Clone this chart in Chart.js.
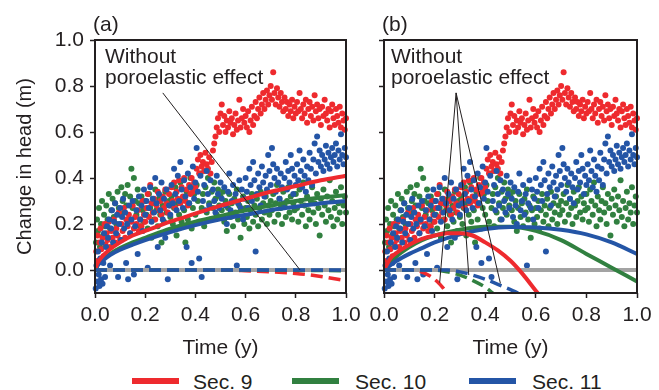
<!DOCTYPE html>
<html lang="en">
<head>
  <meta charset="UTF-8">
  <title>Change in head</title>
  <script src="https://cdn.jsdelivr.net/npm/chart.js"></script>
  <style>
    body { margin: 0; background: #fff; font-family: "Liberation Sans", Arial, sans-serif; color: #231f20; }
    #wrap { position: relative; width: 659px; height: 390px; overflow: hidden; }
    canvas { position: absolute; top: 0; }
    .txt { position: absolute; font-size: 21px; line-height: 21px; white-space: nowrap; }
    .key { position: absolute; top: 378px; width: 47px; height: 6px; }
  </style>
</head>
<body>
<div id="wrap">
  <canvas id="chartA" width="360" height="365" style="left:0"></canvas>
  <canvas id="chartB" width="329" height="365" style="left:330px"></canvas>
  <div class="txt" style="left:93px;top:13px">(a)</div>
  <div class="txt" style="left:382px;top:13px">(b)</div>
  <div class="txt" style="left:105px;top:45px">Without<br>poroelastic effect</div>
  <div class="txt" style="left:391px;top:45px">Without<br>poroelastic effect</div>
  <div class="key" style="left:132px;background:#ee2a2e"></div>
  <div class="txt" style="left:193px;top:371px">Sec. 9</div>
  <div class="key" style="left:292px;background:#318040"></div>
  <div class="txt" style="left:355px;top:371px">Sec. 10</div>
  <div class="key" style="left:469px;background:#2455a6"></div>
  <div class="txt" style="left:532px;top:371px">Sec. 11</div>
</div>
<script>
  // observed change in head, [time (y), head (m)] - same data in both panels
  const sec9Obs = [
    [0.005,0.08],[0.01,0.15],[0.012,0.04],[0.018,0.12],[0.022,0.18],[0.025,0.09],[0.03,0.14],[0.034,0.06],[0.038,0.2],[0.042,0.11],
    [0.046,0.16],[0.05,0.13],[0.055,0.21],[0.06,0.1],[0.065,0.17],[0.07,0.14],[0.075,0.22],[0.08,0.12],[0.085,0.18],[0.09,0.15],
    [0.095,0.25],[0.1,0.13],[0.105,0.2],[0.11,0.17],[0.115,0.27],[0.12,0.14],[0.125,0.22],[0.13,0.19],[0.135,0.24],[0.14,0.16],
    [0.145,0.21],[0.15,0.28],[0.155,0.18],[0.16,0.23],[0.165,0.2],[0.17,0.26],[0.175,0.17],[0.18,0.22],[0.185,0.19],[0.19,0.3],
    [0.195,0.24],[0.2,0.21],[0.205,0.27],[0.21,0.33],[0.215,0.23],[0.22,0.37],[0.225,0.29],[0.23,0.25],[0.235,0.31],[0.24,0.22],
    [0.245,0.28],[0.25,0.34],[0.255,0.26],[0.26,0.3],[0.265,0.24],[0.27,0.32],[0.275,0.27],[0.28,0.35],[0.285,0.29],[0.29,0.25],
    [0.295,0.33],[0.3,0.28],[0.305,0.36],[0.31,0.3],[0.315,0.38],[0.32,0.27],[0.325,0.34],[0.33,0.31],[0.335,0.39],[0.34,0.29],
    [0.345,0.36],[0.35,0.32],[0.355,0.4],[0.36,0.3],[0.365,0.35],[0.37,0.28],[0.375,0.37],[0.38,0.33],[0.385,0.4],[0.39,0.34],
    [0.395,0.38],[0.4,0.36],[0.405,0.44],[0.41,0.48],[0.415,0.42],[0.42,0.5],[0.425,0.45],[0.43,0.47],[0.435,0.43],[0.44,0.51],
    [0.445,0.46],[0.45,0.44],[0.455,0.49],[0.46,0.42],[0.465,0.47],[0.47,0.52],[0.475,0.55],[0.48,0.58],[0.485,0.62],[0.49,0.66],
    [0.495,0.6],[0.5,0.68],[0.505,0.72],[0.51,0.63],[0.515,0.67],[0.52,0.6],[0.525,0.65],[0.53,0.62],[0.535,0.69],[0.54,0.64],
    [0.545,0.66],[0.55,0.59],[0.555,0.63],[0.56,0.68],[0.565,0.61],[0.57,0.65],[0.575,0.74],[0.58,0.62],[0.585,0.66],[0.59,0.7],
    [0.595,0.64],[0.6,0.67],[0.605,0.62],[0.61,0.69],[0.615,0.6],[0.62,0.65],[0.625,0.71],[0.63,0.63],[0.635,0.67],[0.64,0.73],
    [0.645,0.66],[0.65,0.7],[0.655,0.75],[0.66,0.68],[0.665,0.72],[0.67,0.77],[0.675,0.7],[0.68,0.74],[0.685,0.78],[0.69,0.72],
    [0.695,0.76],[0.7,0.8],[0.705,0.74],[0.71,0.86],[0.715,0.77],[0.72,0.72],[0.725,0.79],[0.73,0.75],[0.735,0.71],[0.74,0.77],
    [0.745,0.73],[0.75,0.69],[0.755,0.75],[0.76,0.7],[0.765,0.73],[0.77,0.67],[0.775,0.72],[0.78,0.69],[0.785,0.74],[0.79,0.66],
    [0.795,0.71],[0.8,0.68],[0.805,0.73],[0.81,0.69],[0.815,0.77],[0.82,0.7],[0.825,0.66],[0.83,0.72],[0.835,0.68],[0.84,0.74],
    [0.845,0.64],[0.85,0.7],[0.855,0.73],[0.86,0.67],[0.865,0.71],[0.87,0.65],[0.875,0.76],[0.88,0.69],[0.885,0.72],[0.89,0.66],
    [0.895,0.7],[0.9,0.63],[0.905,0.71],[0.91,0.67],[0.915,0.74],[0.92,0.68],[0.925,0.65],[0.93,0.7],[0.935,0.62],[0.94,0.69],
    [0.945,0.72],[0.95,0.66],[0.955,0.63],[0.96,0.7],[0.965,0.67],[0.97,0.64],[0.975,0.71],[0.98,0.62],[0.985,0.68],[0.99,0.65],
    [0.995,0.61],[1.0,0.66]
  ];
  const sec10Obs = [
    [0.004,0.12],[0.008,0.22],[0.012,0.17],[0.016,0.27],[0.02,0.1],[0.024,0.2],[0.028,0.3],[0.032,0.15],[0.036,0.24],[0.04,0.19],
    [0.045,0.28],[0.05,0.22],[0.055,0.33],[0.06,0.18],[0.065,0.26],[0.07,0.31],[0.075,0.23],[0.08,0.29],[0.085,0.2],[0.09,0.34],
    [0.095,0.27],[0.1,0.24],[0.105,0.36],[0.11,0.3],[0.115,0.25],[0.12,0.33],[0.125,0.28],[0.13,0.37],[0.135,0.22],[0.14,0.32],
    [0.145,0.44],[0.15,0.27],[0.155,0.4],[0.16,0.3],[0.165,0.24],[0.17,0.35],[0.175,0.29],[0.18,0.19],[0.185,0.32],[0.19,0.26],
    [0.195,0.21],[0.2,0.3],[0.205,0.24],[0.21,0.18],[0.215,0.33],[0.22,0.27],[0.225,0.14],[0.23,0.29],[0.235,0.22],[0.24,0.35],
    [0.245,0.26],[0.25,0.19],[0.255,0.31],[0.26,0.24],[0.265,0.12],[0.27,0.28],[0.275,0.21],[0.28,0.34],[0.285,0.25],[0.29,0.17],
    [0.295,0.3],[0.3,0.23],[0.305,0.32],[0.31,0.2],[0.315,0.27],[0.32,0.36],[0.325,0.15],[0.33,0.29],[0.335,0.24],[0.34,0.38],
    [0.345,0.21],[0.35,0.31],[0.355,0.26],[0.36,0.12],[0.365,0.34],[0.37,0.22],[0.375,0.29],[0.38,0.4],[0.385,0.18],[0.39,0.27],
    [0.395,0.33],[0.4,0.24],[0.405,0.37],[0.41,0.3],[0.415,0.21],[0.42,0.42],[0.425,0.27],[0.43,0.33],[0.435,0.19],[0.44,0.36],
    [0.445,0.25],[0.45,0.4],[0.455,0.29],[0.46,0.22],[0.465,0.34],[0.47,0.27],[0.475,0.38],[0.48,0.31],[0.485,0.24],[0.49,0.35],
    [0.495,0.28],[0.5,0.32],[0.505,0.26],[0.51,0.34],[0.515,0.21],[0.52,0.3],[0.525,0.17],[0.53,0.27],[0.535,0.33],[0.54,0.23],
    [0.545,0.29],[0.55,0.19],[0.555,0.31],[0.56,0.25],[0.565,0.35],[0.57,0.22],[0.575,0.28],[0.58,0.14],[0.585,0.26],[0.59,0.32],
    [0.595,0.2],[0.6,0.27],[0.605,0.23],[0.61,0.3],[0.615,0.18],[0.62,0.26],[0.625,0.33],[0.63,0.21],[0.635,0.28],[0.64,0.24],
    [0.645,0.31],[0.65,0.19],[0.655,0.27],[0.66,0.34],[0.665,0.22],[0.67,0.29],[0.675,0.25],[0.68,0.32],[0.685,0.2],[0.69,0.28],
    [0.695,0.24],[0.7,0.3],[0.705,0.26],[0.71,0.33],[0.715,0.21],[0.72,0.29],[0.725,0.37],[0.73,0.24],[0.735,0.31],[0.74,0.27],
    [0.745,0.2],[0.75,0.34],[0.755,0.28],[0.76,0.23],[0.765,0.3],[0.77,0.36],[0.775,0.25],[0.78,0.32],[0.785,0.22],[0.79,0.29],
    [0.795,0.26],[0.8,0.33],[0.805,0.27],[0.81,0.21],[0.815,0.35],[0.82,0.3],[0.825,0.24],[0.83,0.38],[0.835,0.28],[0.84,0.19],
    [0.845,0.32],[0.85,0.26],[0.855,0.22],[0.86,0.3],[0.865,0.36],[0.87,0.25],[0.875,0.29],[0.88,0.2],[0.885,0.33],[0.89,0.27],
    [0.895,0.15],[0.9,0.31],[0.905,0.24],[0.91,0.35],[0.915,0.28],[0.92,0.21],[0.925,0.32],[0.93,0.26],[0.935,0.39],[0.94,0.23],
    [0.945,0.3],[0.95,0.19],[0.955,0.27],[0.96,0.34],[0.965,0.22],[0.97,0.29],[0.975,0.25],[0.98,0.36],[0.985,0.2],[0.99,0.28],
    [0.995,0.32],[1.0,0.25]
  ];
  const sec11Obs = [
    [0.003,-0.08],[0.006,0.02],[0.009,-0.05],[0.012,0.08],[0.015,-0.02],[0.018,-0.07],[0.021,0.05],[0.024,-0.04],[0.027,0.12],[0.03,-0.06],
    [0.033,0.03],[0.036,0.16],[0.04,-0.03],[0.044,0.1],[0.048,0.19],[0.052,0.14],[0.056,0.22],[0.06,0.02],[0.064,0.18],[0.068,0.26],
    [0.072,0.12],[0.076,0.21],[0.08,0.29],[0.084,0.16],[0.088,0.24],[0.092,-0.03],[0.096,0.2],[0.1,0.27],[0.104,0.13],[0.108,0.23],
    [0.112,0.31],[0.116,0.18],[0.12,0.25],[0.124,0.03],[0.128,0.2],[0.132,-0.04],[0.136,0.28],[0.14,0.16],[0.145,0.22],[0.15,0.3],
    [0.155,-0.02],[0.16,0.19],[0.165,0.26],[0.17,0.07],[0.175,0.32],[0.18,0.22],[0.185,0.28],[0.19,0.17],[0.195,0.35],[0.2,0.24],
    [0.205,0.3],[0.21,0.01],[0.215,0.27],[0.22,0.36],[0.225,0.21],[0.23,0.31],[0.235,0.25],[0.24,0.4],[0.245,0.29],[0.25,0.1],
    [0.255,0.33],[0.26,0.26],[0.265,0.38],[0.27,0.22],[0.275,0.31],[0.28,0.14],[0.285,0.35],[0.29,-0.04],[0.295,0.28],[0.3,0.24],
    [0.305,0.37],[0.31,0.29],[0.315,0.44],[0.32,0.33],[0.325,0.26],[0.33,0.41],[0.335,0.3],[0.34,0.47],[0.345,0.35],[0.35,0.27],
    [0.355,0.39],[0.36,0.32],[0.365,0.1],[0.37,0.42],[0.375,0.29],[0.38,0.36],[0.385,0.03],[0.39,0.45],[0.395,0.31],[0.4,0.38],
    [0.405,0.53],[0.41,0.34],[0.415,0.05],[0.42,0.41],[0.425,-0.03],[0.43,0.3],[0.435,0.37],[0.44,0.26],[0.445,0.43],[0.45,0.33],
    [0.455,0.28],[0.46,0.39],[0.465,0.22],[0.47,0.35],[0.475,0.3],[0.48,0.25],[0.485,0.41],[0.49,0.33],[0.495,0.27],[0.5,0.38],
    [0.505,0.31],[0.51,0.23],[0.515,0.36],[0.52,0.28],[0.525,0.2],[0.53,0.34],[0.535,0.42],[0.54,0.26],[0.545,0.3],[0.55,0.37],
    [0.555,0.24],[0.56,0.33],[0.565,0.02],[0.57,0.29],[0.575,0.39],[0.58,0.27],[0.585,0.35],[0.59,0.22],[0.595,0.31],[0.6,0.4],
    [0.605,0.34],[0.61,0.27],[0.615,0.44],[0.62,0.37],[0.625,0.3],[0.63,0.47],[0.635,0.39],[0.64,0.08],[0.645,0.33],[0.65,0.42],
    [0.655,0.36],[0.66,0.28],[0.665,0.45],[0.67,0.38],[0.675,0.32],[0.68,0.41],[0.685,0.35],[0.69,0.5],[0.695,0.43],[0.7,0.37],
    [0.705,0.53],[0.71,0.46],[0.715,0.4],[0.72,0.34],[0.725,0.44],[0.73,0.38],[0.735,0.31],[0.74,0.42],[0.745,0.36],[0.75,0.29],
    [0.755,0.4],[0.76,0.47],[0.765,0.35],[0.77,0.43],[0.775,0.38],[0.78,0.5],[0.785,0.44],[0.79,0.33],[0.795,0.41],[0.8,0.37],
    [0.805,0.46],[0.81,0.39],[0.815,0.52],[0.82,0.43],[0.825,0.36],[0.83,0.48],[0.835,0.41],[0.84,0.34],[0.845,0.45],[0.85,0.39],
    [0.855,0.51],[0.86,0.44],[0.865,0.37],[0.87,0.48],[0.875,0.55],[0.88,0.42],[0.885,0.58],[0.89,0.47],[0.895,0.52],[0.9,0.45],
    [0.905,0.5],[0.91,0.43],[0.915,0.48],[0.92,0.54],[0.925,0.46],[0.93,0.51],[0.935,0.44],[0.94,0.49],[0.945,0.53],[0.95,0.47],
    [0.955,0.5],[0.96,0.55],[0.965,0.45],[0.97,0.52],[0.975,0.48],[0.98,0.59],[0.985,0.5],[0.99,0.46],[0.995,0.53],[1.0,0.49]
  ];

  // panel (a) model curves
  const fitA9  = [[0,0],[0.01,0.03],[0.03,0.06],[0.06,0.09],[0.1,0.12],[0.15,0.15],[0.2,0.17],[0.3,0.21],[0.4,0.245],[0.5,0.28],[0.6,0.31],[0.7,0.34],[0.8,0.365],[0.9,0.39],[1.0,0.41]];
  const fitA10 = [[0,0],[0.01,0.025],[0.03,0.045],[0.06,0.07],[0.1,0.095],[0.15,0.12],[0.2,0.14],[0.3,0.18],[0.4,0.21],[0.5,0.235],[0.6,0.26],[0.7,0.28],[0.8,0.3],[0.9,0.315],[1.0,0.325]];
  const fitA11 = [[0,0],[0.01,0.02],[0.03,0.04],[0.06,0.065],[0.1,0.088],[0.15,0.11],[0.2,0.13],[0.3,0.165],[0.4,0.195],[0.5,0.22],[0.6,0.24],[0.7,0.26],[0.8,0.275],[0.9,0.29],[1.0,0.3]];
  const noPoroA9  = [[0,0],[0.5,0],[0.6,-0.003],[0.7,-0.008],[0.8,-0.015],[0.9,-0.028],[1.0,-0.047]];
  const noPoroA10 = [[0,0],[0.5,0],[1.0,-0.003]];
  const noPoroA11 = [[0,0],[1.0,0]];

  // panel (b) model curves
  const fitB9  = [[0,0],[0.025,0.05],[0.05,0.075],[0.1,0.11],[0.15,0.135],[0.2,0.15],[0.25,0.16],[0.3,0.16],[0.35,0.15],[0.4,0.12],[0.45,0.085],[0.5,0.04],[0.55,-0.02],[0.6,-0.09],[0.615,-0.11]];
  const fitB10 = [[0,0],[0.05,0.06],[0.1,0.1],[0.15,0.13],[0.2,0.15],[0.3,0.175],[0.4,0.188],[0.5,0.188],[0.6,0.17],[0.7,0.13],[0.8,0.07],[0.9,0.01],[1.0,-0.05]];
  const fitB11 = [[0,0],[0.05,0.04],[0.1,0.07],[0.15,0.095],[0.2,0.12],[0.3,0.155],[0.4,0.178],[0.5,0.187],[0.6,0.185],[0.7,0.175],[0.8,0.155],[0.9,0.12],[1.0,0.07]];
  const noPoroB9  = [[0,0],[0.1,0],[0.14,-0.005],[0.18,-0.025],[0.21,-0.05],[0.235,-0.08],[0.255,-0.11]];
  const noPoroB10 = [[0,0],[0.2,0],[0.25,-0.008],[0.3,-0.022],[0.35,-0.045],[0.4,-0.075],[0.43,-0.1]];
  const noPoroB11 = [[0,0],[0.25,0],[0.3,-0.008],[0.35,-0.022],[0.4,-0.04],[0.45,-0.062],[0.5,-0.085],[0.53,-0.1]];

  const zeroLine = [[0,0],[1.0,0]];
  const xTicks = [0, 0.2, 0.4, 0.6, 0.8, 1.0];
  const yTicks = [0, 0.2, 0.4, 0.6, 0.8, 1.0];

  // leader lines from "Without poroelastic effect"
  const leaderA = { from: [0.27, 0.77], to: [[0.817, 0.0]] };
  const leaderB = { from: [0.285, 0.77], to: [[0.22, -0.055], [0.335, -0.022], [0.46, -0.058]] };

  const RED = '#ee2a2e', GREEN = '#318040', BLUE = '#2455a6', INK = '#231f20';
  const FONT = '"Liberation Sans", Arial, sans-serif';

  const pts = arr => arr.map(p => ({ x: p[0], y: p[1] }));

  function curve(arr, color, dashed) {
    return {
      data: pts(arr), showLine: true, borderColor: color,
      borderWidth: dashed ? 3.5 : 4, borderDash: dashed ? [12, 6] : [],
      pointRadius: 0, fill: false, cubicInterpolationMode: 'monotone', clip: 1
    };
  }
  function obs(arr, color) {
    return { data: pts(arr), backgroundColor: color, borderWidth: 0, pointRadius: 3, clip: 3 };
  }

  const frame = {
    id: 'frame',
    afterDatasetsDraw(chart, args, opts) {
      const { ctx, chartArea: a, scales } = chart;
      ctx.save();
      ctx.strokeStyle = INK;
      ctx.lineWidth = 1;
      const fx = scales.x.getPixelForValue(opts.from[0]);
      const fy = scales.y.getPixelForValue(opts.from[1]);
      opts.to.forEach(t => {
        ctx.beginPath();
        ctx.moveTo(fx, fy);
        ctx.lineTo(scales.x.getPixelForValue(t[0]), scales.y.getPixelForValue(t[1]));
        ctx.stroke();
      });
      ctx.lineWidth = 2;
      ctx.strokeRect(a.left, a.top, a.width, a.height);
      ctx.restore();
    }
  };

  function makeChart(id, datasets, leader, showY, yWidth, padRight) {
    new Chart(document.getElementById(id), {
      type: 'scatter',
      data: { datasets },
      plugins: [frame],
      options: {
        responsive: false, animation: false, events: [],
        layout: { padding: { top: 40, right: padRight, left: 0, bottom: 0 } },
        plugins: { legend: { display: false }, tooltip: { enabled: false }, frame: leader },
        scales: {
          x: {
            type: 'linear', min: 0, max: 1,
            afterBuildTicks: s => { s.ticks = xTicks.map(v => ({ value: v })); },
            afterFit: s => { s.height = 72; s.paddingLeft = 0; s.paddingRight = 0; },
            ticks: { color: INK, font: { family: FONT, size: 21 }, padding: 5, maxRotation: 0,
                     callback: v => Number(v).toFixed(1) },
            grid: { display: true, drawOnChartArea: false, drawTicks: true, tickLength: 5, tickColor: INK, tickWidth: 1.5 },
            border: { display: false },
            title: { display: true, text: 'Time (y)', color: INK, font: { family: FONT, size: 21 }, padding: { top: 0, bottom: 4 } }
          },
          y: {
            type: 'linear', min: -0.1, max: 1.0,
            afterBuildTicks: s => { s.ticks = yTicks.map(v => ({ value: v })); },
            afterFit: s => { s.width = yWidth; s.paddingTop = 0; s.paddingBottom = 0; },
            ticks: { color: INK, font: { family: FONT, size: 21 }, padding: 6,
                     callback: v => showY ? Number(v).toFixed(1) : '' },
            grid: { display: true, drawOnChartArea: false, drawTicks: true, tickLength: 5, tickColor: INK, tickWidth: 1.5 },
            border: { display: false },
            title: { display: showY, text: 'Change in head (m)', color: INK, font: { family: FONT, size: 20 }, padding: { top: 13, bottom: 0 } }
          }
        }
      }
    });
  }

  makeChart('chartA', [
    curve(noPoroA11, BLUE, true), curve(noPoroA10, GREEN, true), curve(noPoroA9, RED, true),
    curve(zeroLine, '#a3a3a3', false),
    curve(fitA9, RED, false), curve(fitA11, BLUE, false), curve(fitA10, GREEN, false),
    obs(sec11Obs, BLUE), obs(sec9Obs, RED), obs(sec10Obs, GREEN)
  ], leaderA, true, 95, 14);

  makeChart('chartB', [
    curve(noPoroB11, BLUE, true), curve(noPoroB10, GREEN, true), curve(noPoroB9, RED, true),
    curve(fitB9, RED, false), curve(fitB11, BLUE, false), curve(fitB10, GREEN, false),
    curve(zeroLine, '#a3a3a3', false),
    obs(sec11Obs, BLUE), obs(sec9Obs, RED), obs(sec10Obs, GREEN)
  ], leaderB, false, 54, 22);
</script>
</body>
</html>
